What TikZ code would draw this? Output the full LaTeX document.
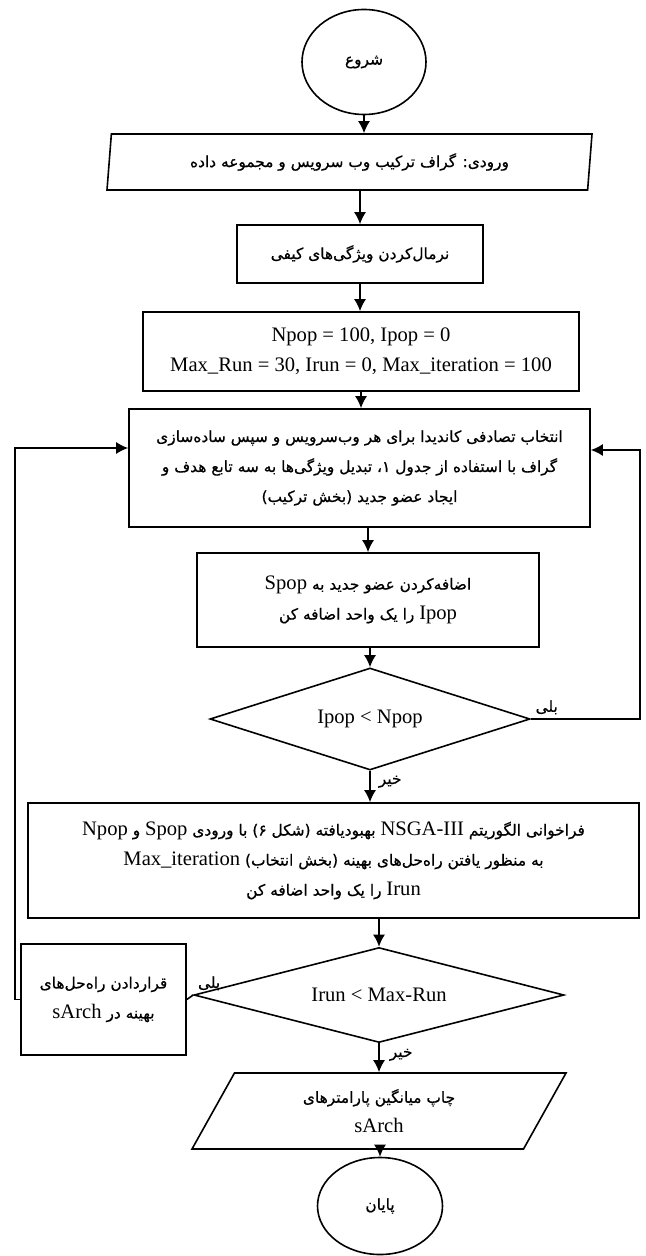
\documentclass[tikz,border=0pt]{standalone}
\usepackage{fontspec}
\setmainfont{Liberation Serif}
\newfontfamily\fafont[Script=Arabic, FakeBold=0.6]{DejaVu Sans}
\TeXXeTstate=1
\usetikzlibrary{shapes.geometric}
\usetikzlibrary{arrows.meta}

\newcommand{\fa}[1]{{\fafont\fontsize{7.7}{15}\selectfont\beginR #1\endR}}
\newcommand{\lat}[1]{\beginL{\rmfamily\fontsize{10.3}{15}\selectfont #1}\endL}

\begin{document}
\begin{tikzpicture}[>={Latex[length=6pt,width=6pt]}, x=0.5pt, y=-0.5pt, line width=0.8pt,
    every node/.style={inner sep=1pt, align=center, font=\fontsize{10.3}{15}\selectfont},
    proc/.style={draw, rectangle},
    term/.style={draw, ellipse, inner sep=0pt},
    inout/.style={draw, trapezium, trapezium stretches body, inner sep=0pt},
    cond/.style={draw, diamond, inner sep=0pt}]
  \useasboundingbox (0,0) rectangle (645,1256);

  \node[term, minimum width=62pt, minimum height=52.5pt] at (364,62) (start) {\fa{شروع}};
  \node[inout, trapezium left angle=76, trapezium right angle=104,
        minimum width=242.5pt, minimum height=28pt] at (349.5,162) (input)
        {\fa{ورودی: گراف ترکیب وب سرویس و مجموعه داده}};
  \node[proc, minimum width=123pt, minimum height=29pt] at (360,254) (norm)
        {\fa{نرمال^^^^200cکردن ویژگی^^^^200cهای کیفی}};
  \node[proc, minimum width=218pt, minimum height=39.5pt] at (361,351.5) (init)
        {Npop = 100, Ipop = 0\\Max\_Run = 30, Irun = 0, Max\_iteration = 100};
  \node[proc, minimum width=230.5pt, minimum height=59pt] at (359.5,468) (cand)
        {\fa{انتخاب تصادفی کاندیدا برای هر وب^^^^200cسرویس و سپس ساده^^^^200cسازی}\\
         \fa{گراف با استفاده از جدول ۱، تبدیل ویژگی^^^^200cها به سه تابع هدف و}\\
         \fa{ایجاد عضو جدید (بخش ترکیب)}};
  \node[proc, minimum width=171pt, minimum height=47pt] at (368,600) (add)
        {\fa{اضافه^^^^200cکردن عضو جدید به \lat{Spop}}\\
         \fa{\lat{Ipop} را یک واحد اضافه کن}};
  \node[cond, aspect=3.1, minimum width=160pt, minimum height=51pt] at (370,719) (chk1)
        {Ipop < Npop};
  \node[proc, minimum width=305.5pt, minimum height=57.5pt] at (333.5,860.5) (nsga)
        {\fa{فراخوانی الگوریتم \lat{NSGA-III} بهبودیافته (شکل ۶) با ورودی \lat{Spop} و \lat{Npop}}\\
         \fa{به منظور یافتن راه^^^^200cحل^^^^200cهای بهینه (بخش انتخاب) \lat{Max\_iteration}}\\
         \fa{\lat{Irun} را یک واحد اضافه کن}};
  \node[cond, aspect=3.9, minimum width=185pt, minimum height=47.5pt] at (379,995) (chk2)
        {Irun < Max-Run};
  \node[proc, minimum width=82.5pt, minimum height=55.5pt] at (103.5,999.5) (store)
        {\fa{قراردادن راه^^^^200cحل^^^^200cهای}\\
         \fa{بهینه در \lat{sArch}}};
  \node[inout, trapezium left angle=46, trapezium right angle=134,
        minimum width=187pt, minimum height=38pt] at (379,1111) (print)
        {\fa{چاپ میانگین پارامترهای}\\sArch};
  \node[term, minimum width=62.5pt, minimum height=48.5pt] at (380,1206) (end) {\fa{پایان}};

  \coordinate (rloop) at (640,450);
  \coordinate (lloop) at (15,448);

  \draw[->] (start) -- (start |- input.north);
  \draw[->] (norm |- input.south) -- (norm.north);
  \draw[->] (norm.south) -- (norm.south |- init.north);
  \draw[->] (init.south) -- (init.south |- cand.north);
  \draw[->] (add |- cand.south) -- (add.north);
  \draw[->] (chk1 |- add.south) -- (chk1.north);
  \draw[->] (chk1.south) -- (chk1.south |- nsga.north) node[pos=0.35, right=3pt] {\fa{خیر}};
  \draw[->] (chk1.east) node[above right=1pt] {\fa{بلی}} -| (rloop) -- (rloop -| cand.east);
  \draw[->] (chk2 |- nsga.south) -- (chk2.north);
  \draw (chk2.west) node[above right=1pt] {\fa{بلی}} -- (store.east);
  \draw[->] (store.west) -| (lloop) -- (lloop -| cand.west);
  \draw[->] (chk2.south) -- (chk2.south |- print.north) node[pos=0.4, right=4pt] {\fa{خیر}};
  \draw[->] (end |- print.south) -- (end.north);
\end{tikzpicture}
\end{document}
